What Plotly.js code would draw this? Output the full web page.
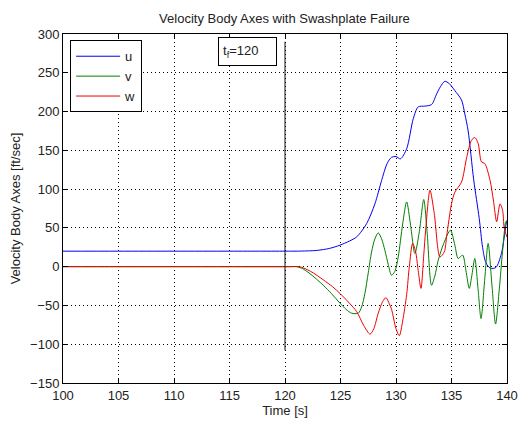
<!DOCTYPE html>
<html>
<head>
<meta charset="utf-8">
<script src="https://cdn.plot.ly/plotly-3.0.1.min.js"></script>
<style>html,body{margin:0;padding:0;background:#fff;}#chart{width:522px;height:421px;}</style>
</head>
<body>
<div id="chart"></div>
<script>
// ---- data ----
const uTime = [100, 105, 110, 115, 118, 119.5, 120.5, 121, 122, 122.9, 124, 124.95, 125.8, 126.46, 127.36, 128.1, 128.7, 129.2, 129.6, 130.0, 130.4, 130.96, 131.56, 132.0, 132.6, 133.2, 133.67, 134.0, 134.4, 134.8, 135.3, 135.9, 136.2, 136.5, 137.0, 137.5, 137.8, 138.1, 138.5, 139.0, 139.5, 139.9, 140];
const uVals = [20, 20, 20, 20, 20, 20, 20, 20, 20.3, 21, 23.5, 27.7, 33, 38.4, 55.7, 81, 111, 133, 141, 142, 139, 152, 191, 206, 207, 209, 223, 232, 239, 236, 227, 215, 197, 175, 112, 62, 25, 5, -2, -1, 17, 53, 60];

const vTime = [100, 105, 110, 115, 118, 119.5, 120.5, 121, 121.5, 122.25, 123.45, 124.2, 124.95, 125.5, 126.0, 126.6, 126.9, 127.2, 127.5, 127.8, 128.1, 128.4, 128.7, 129.0, 129.3, 129.6, 129.9, 130.2, 130.6, 130.96, 131.3, 131.7, 132.1, 132.5, 132.8, 133.2, 133.5, 133.8, 134.3, 134.9, 135.3, 135.6, 136.0, 136.3, 136.6, 136.85, 137.1, 137.4, 137.66, 138.0, 138.3, 138.65, 138.97, 139.3, 139.6, 139.9, 140];
const vVals = [0, 0, 0, 0, 0, 0, 0, 0, -2, -9, -24, -35, -47, -55, -60, -60, -52, -34.5, -8, 19, 36, 43.6, 36, 21, 3, -11, -6, 12.6, 55, 83.5, 55, 17, 45, 86.6, 45, -24, -12, 8, 30, 47, 28, 10.5, 15, -5, -28, -10, 10.5, -30, -67, -15, 30, -25, -74, -30, 20, 58, 55];

const wTime = [100, 105, 110, 115, 118, 119.5, 120.5, 121.3, 122.3, 123.45, 124.3, 124.95, 125.8, 126.46, 127.1, 127.66, 128.0, 128.4, 128.8, 129.1, 129.4, 129.6, 130.0, 130.3, 130.6, 130.96, 131.2, 131.5, 131.77, 132.0, 132.25, 132.5, 132.67, 133.06, 133.45, 133.96, 134.35, 134.57, 135.0, 135.3, 135.9, 136.37, 136.8, 137.1, 137.4, 137.7, 138.0, 138.47, 138.77, 139.07, 139.37, 139.6, 139.75, 140];
const wVals = [0, 0, 0, 0, 0, 0, 0, 0, -6, -17, -26, -34.5, -47, -58, -76, -87, -80, -60, -45, -40, -48, -55, -80, -89, -70, -36, 0, 30, 19, -5, -28, 15, 47, 98.6, 68.5, 12.6, 19, 40, 81, 96, 109, 141, 163, 166.5, 159, 135, 133, 111.5, 86, 58, 81, 73, 50, 38];

const failureTime = [120, 120];
const failureLineY = [-108, 290];

const seriesNames = ['u', 'v', 'w'];
const xTickVals = [100, 105, 110, 115, 120, 125, 130, 135, 140];
const yTickVals = [-150, -100, -50, 0, 50, 100, 150, 200, 250, 300];

// ---- drawing ----
const colors = ['#0000f0', '#008000', '#f00000'];
const times = [uTime, vTime, wTime];
const vals = [uVals, vVals, wVals];

const traces = seriesNames.map((n, i) => ({
  x: times[i], y: vals[i], name: n, type: 'scatter', mode: 'lines',
  line: {color: colors[i], width: 1, shape: 'spline', smoothing: 0.8}
}));
traces.push({
  x: failureTime, y: failureLineY, type: 'scatter', mode: 'lines',
  showlegend: false, hoverinfo: 'skip',
  line: {color: '#111', width: 1}
});

const font = {family: '"Liberation Sans", Arial, sans-serif', size: 13, color: '#222'};
const axisCommon = {
  showline: true, mirror: 'ticks', linecolor: '#000', linewidth: 1,
  ticks: 'inside', ticklen: 5, tickcolor: '#000', tickwidth: 1,
  showgrid: true, gridcolor: '#000', gridwidth: 1, griddash: '1px,3px',
  zeroline: false, tickfont: font
};

const layout = {
  width: 522, height: 421,
  margin: {l: 63, r: 15, t: 34, b: 38, pad: 0},
  paper_bgcolor: '#fff', plot_bgcolor: '#fff',
  font: font,
  title: {text: 'Velocity Body Axes with Swashplate Failure', x: 0.545, xanchor: 'center',
          y: 1 - 18/421, yanchor: 'middle', font: font},
  xaxis: Object.assign({}, axisCommon, {
    range: [100, 140], tickvals: xTickVals,
    title: {text: 'Time [s]', font: font, standoff: 4}
  }),
  yaxis: Object.assign({}, axisCommon, {
    range: [-150, 300], tickvals: yTickVals,
    title: {text: 'Velocity Body Axes [ft/sec]', font: font, standoff: 6}
  }),
  legend: {
    x: 0.016, y: 0.982, xanchor: 'left', yanchor: 'top',
    bgcolor: '#fff', bordercolor: '#000', borderwidth: 1,
    font: font, tracegroupgap: 0, itemwidth: 44
  },
  annotations: [{
    x: 116.6, y: 278, xref: 'x', yref: 'y', showarrow: false,
    text: 't<sub>f</sub>=120', font: font, align: 'left',
    width: 49, height: 19,
    bgcolor: '#fff', bordercolor: '#000', borderwidth: 1, borderpad: 4
  }],
  showlegend: true
};

Plotly.newPlot('chart', traces, layout, {displayModeBar: false, staticPlot: true});
</script>
</body>
</html>
